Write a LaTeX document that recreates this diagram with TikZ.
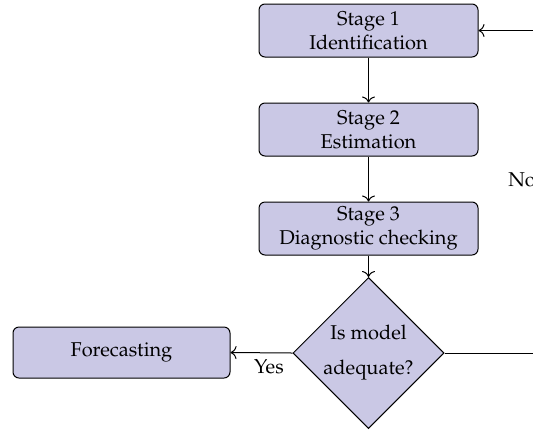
\documentclass[tikz,border=0pt]{standalone}
\usepackage[T1]{fontenc}
\usepackage{mathpazo}
\usetikzlibrary{shapes.geometric,arrows.meta}
\definecolor{boxfill}{RGB}{202,200,229}
\begin{document}
\begin{tikzpicture}[x=0.5pt,y=-0.5pt,line width=0.5pt,
  stagebox/.style={draw, fill=boxfill, rounded corners=3pt, minimum width=109.5pt, minimum height=26.5pt, align=center, inner sep=2pt},
  decision/.style={draw, fill=boxfill, diamond, aspect=1, minimum size=75.5pt, inner sep=0pt, align=center},
  flow/.style={-{To[length=3pt,width=6.5pt]}}]
\useasboundingbox (0,0) rectangle (533,429);
\clip (0,0) rectangle (533,429);
\node[stagebox] (s1) at (368.5,30.5) {Stage 1\\Identification};
\node[stagebox] (s2) at (368.5,129.5) {Stage 2\\Estimation};
\node[stagebox] (s3) at (368.5,228.5) {Stage 3\\Diagnostic checking};
\node[decision] (d) at (368.5,353) {Is model\\[5.5pt]adequate?};
\node[stagebox, minimum width=108.5pt, minimum height=25.5pt] (f) at (121.5,352.5) {Forecasting};
\coordinate (r) at (543,0);
\draw[flow] (s1) -- (s2);
\draw[flow] (s2) -- (s3);
\draw[flow] (s3) -- (d);
\draw[flow] (d.west) -- node[below, pos=0.38] {Yes} (f.east);
\draw[flow] (d.east) -- (d.east -| r) -- node[left, pos=0.536] {No} (r |- s1.east) -- (s1.east);
\end{tikzpicture}
\end{document}
